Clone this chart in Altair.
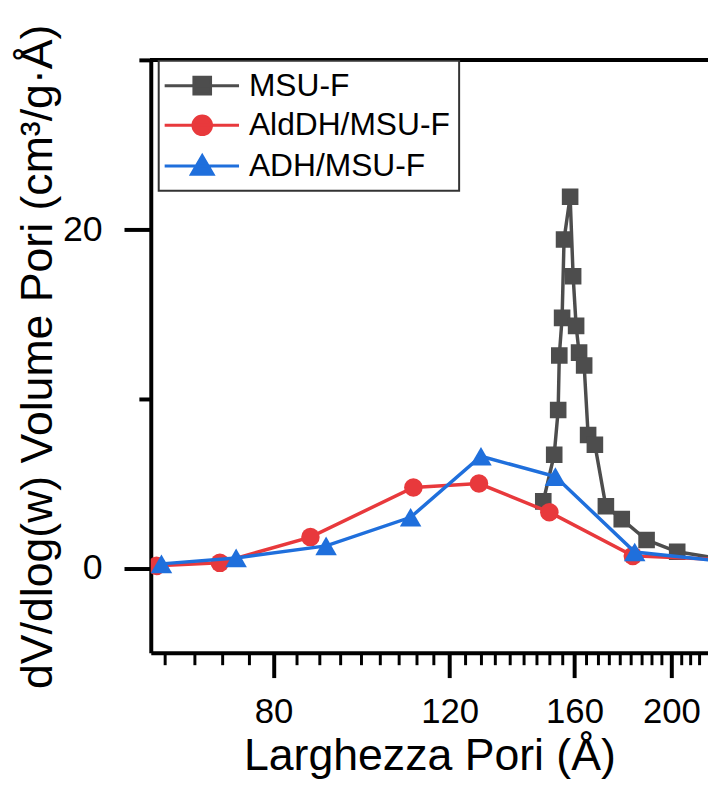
import altair as alt
import pandas as pd

FONT = "Liberation Sans"

series_names = ["MSU-F", "AldDH/MSU-F", "ADH/MSU-F"]
series_colors = ["#4d4d4d", "#e8393c", "#1f6fdc"]
series_shapes = ["square", "circle", "triangle-up"]
series_sizes = [280, 350, 470]

msu_x = [148.9, 152.7, 154.1, 154.5, 155.5, 156.2, 158.4, 159.5, 160.6, 161.7,
         163.6, 165.1, 167.7, 172.0, 178.4, 188.9, 202.7, 222.0]
msu_y = [3.94, 6.69, 9.33, 12.55, 14.77, 19.40, 21.92, 17.23, 14.30, 12.72,
         11.96, 7.86, 7.28, 3.65, 2.89, 1.66, 0.96, 0.58]

ald_x = [61.1, 70.7, 87.1, 110.4, 128.4, 151.0, 183.0, 225.0]
ald_y = [0.13, 0.31, 1.83, 4.76, 4.99, 3.30, 0.72, 0.50]

adh_x = [61.8, 73.4, 90.3, 109.7, 129.0, 153.1, 183.8, 228.0]
adh_y = [0.25, 0.60, 1.31, 3.00, 6.60, 5.40, 0.95, 0.36]

x_major = [80, 120, 160, 200]
x_minor = [62.22, 66.67, 71.11, 75.56, 84.44, 88.89, 93.33, 97.78, 102.22, 106.67,
           111.11, 115.56, 124.44, 128.89, 133.33, 137.78, 142.22, 146.67, 151.11,
           155.56, 164.44, 168.89, 173.33, 177.78, 182.22, 186.67, 191.11, 195.56,
           204.44, 208.89, 213.33]
y_major = [0, 20]
y_minor = [10, 30]
x_domain = [60.3, 217.6]
y_domain = [-5, 30]

# legend symbols: line + marker (custom paths)
legend_paths = [
    "M-2.375,0H7.0M1.3125,-1.05H3.4125V1.05H1.3125Z",
    "M-2.375,0H7.0M1.1875,0A1.175,1.175,0,1,0,3.5375,0A1.175,1.175,0,1,0,1.1875,0Z",
    "M-2.375,0H7.0M2.3625,-1.3L3.725,1.05L1.0,1.05Z",
]

rows = []
for name, xs, ys in [(series_names[0], msu_x, msu_y),
                     (series_names[1], ald_x, ald_y),
                     (series_names[2], adh_x, adh_y)]:
    for a, b in zip(xs, ys):
        rows.append({"series": name, "w": a, "v": b})
df = pd.DataFrame(rows)

xscale = alt.Scale(type="log", domain=x_domain, nice=False, zero=False)
yscale = alt.Scale(domain=y_domain, nice=False, zero=False)

axis_x_main = alt.Axis(
    values=x_major, format="d", tickSize=25, tickWidth=4, tickColor="black",
    domainWidth=4, domainColor="black", labelFont=FONT, labelFontSize=35,
    labelColor="black", labelBaseline="alphabetic", labelPadding=45,
    labelFlush=False, labelOverlap=False, grid=False,
    title="Larghezza Pori (Å)", titleFont=FONT, titleFontSize=45,
    titleFontWeight="normal", titleColor="black", titleBaseline="alphabetic",
    titleY=118, orient="bottom",
)
axis_y_main = alt.Axis(
    values=y_major, tickSize=27, tickWidth=4, tickColor="black",
    domainWidth=4, domainColor="black", labelFont=FONT, labelFontSize=36,
    labelColor="black", labelPadding=22, labelBaseline="middle", grid=False,
    title="dV/dlog(w) Volume Pori (cm³/g·Å)", titleFont=FONT, titleFontSize=45,
    titleFontWeight="normal", titleColor="black", titleBaseline="alphabetic",
    titleAngle=270, titleAlign="center", titleX=-100, titleY=299, orient="left",
)
axis_x_minor = alt.Axis(
    values=x_minor, tickSize=12, tickWidth=3, tickColor="black", domain=False,
    labels=False, title=None, grid=False, orient="bottom",
)
axis_y_minor = alt.Axis(
    values=y_minor, tickSize=12, tickWidth=4, tickColor="black", domain=False,
    labels=False, title=None, grid=False, orient="left",
)

layers = []
for i, (name, col, shp, sz) in enumerate(zip(series_names, series_colors, series_shapes, series_sizes)):
    sub = alt.Chart(df).transform_filter(alt.datum.series == name)
    xa = axis_x_main if i == 0 else None
    ya = axis_y_main if i == 0 else None
    line = sub.mark_line(color=col, strokeWidth=3.5, clip=True).encode(
        x=alt.X("w:Q", scale=xscale, axis=xa),
        y=alt.Y("v:Q", scale=yscale, axis=ya),
        order="w:Q",
    )
    xa2 = axis_x_minor if i == 0 else None
    ya2 = axis_y_minor if i == 0 else None
    pts = sub.mark_point(shape=shp, filled=True, size=sz, color=col, opacity=1, clip=True).encode(
        x=alt.X("w:Q", scale=xscale, axis=xa2),
        y=alt.Y("v:Q", scale=yscale, axis=ya2),
    )
    layers += [line, pts]

top_border = alt.Chart(df).mark_rule(color="black", strokeWidth=4).encode(
    y=alt.YDatum(30, axis=None)
)

leg = alt.Legend(
    orient="none", legendX=8, legendY=1, title=None, labelFont=FONT,
    labelFontSize=32, labelColor="black", labelLimit=500, symbolSize=256,
    symbolStrokeWidth=3, symbolOpacity=1, labelOffset=50, rowPadding=8, padding=9,
    strokeColor="#333333", fillColor="white",
)
legend_layer = alt.Chart(df).transform_filter("datum.w < 0").mark_point(filled=True).encode(
    fill=alt.Fill("series:N", scale=alt.Scale(domain=series_names, range=series_colors), legend=leg),
    stroke=alt.Stroke("series:N", scale=alt.Scale(domain=series_names, range=series_colors), legend=leg),
    shape=alt.Shape("series:N", scale=alt.Scale(domain=series_names, range=legend_paths), legend=leg),
)

chart = alt.layer(*layers, top_border, legend_layer).resolve_axis(
    x="independent", y="independent"
).properties(
    width=562, height=598, autosize="none",
    padding={"left": 144, "top": 49, "right": 0, "bottom": 128},
).configure_view(stroke=None).configure_legend(strokeWidth=2)

chart.save("out.html", embed_options={"renderer": "svg", "actions": False})
